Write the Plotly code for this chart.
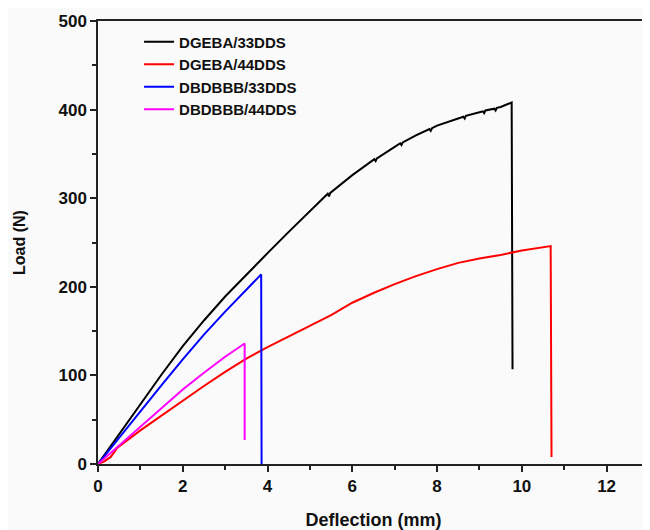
import plotly.graph_objects as go

# DGEBA/33DDS
x_dgeba33 = [0, 0.5, 1.0, 1.5, 2.0, 2.5, 3.0, 3.5, 4.0, 4.5, 5.0, 5.42, 5.45, 5.48, 6.0, 6.52, 6.55, 6.58, 7.0,
             7.13, 7.16, 7.19, 7.5, 7.82, 7.85, 7.88, 8.0, 8.5, 8.62, 8.65, 8.68, 9.0, 9.08, 9.11, 9.14, 9.35,
             9.38, 9.41, 9.5, 9.76, 9.78]
y_dgeba33 = [0, 34, 67, 101, 133, 162, 189, 214, 238, 262, 285, 305, 302, 306, 326, 344, 342, 345, 358,
             362, 360, 363, 371, 378, 376, 379, 382, 390, 392, 390, 393, 397, 398, 396, 399, 401,
             399, 402, 403, 408, 107]

# DGEBA/44DDS
x_dgeba44 = [0, 0.15, 0.3, 0.45, 1.0, 1.5, 2.0, 2.5, 3.0, 3.5, 4.0, 4.5, 5.0, 5.5, 6.0, 6.5, 7.0, 7.5, 8.0,
             8.5, 9.0, 9.5, 10.0, 10.4, 10.68, 10.7]
y_dgeba44 = [0, 3, 8, 18, 38, 55, 71, 88, 104, 119, 132, 144, 156, 168, 182, 193, 203, 212, 220,
             227, 232, 236, 241, 244, 246, 8]

# DBDBBB/33DDS
x_dbdbbb33 = [0, 0.5, 1.0, 1.5, 2.0, 2.5, 3.0, 3.5, 3.85, 3.86]
y_dbdbbb33 = [0, 30, 60, 89, 118, 146, 172, 197, 214, 0]

# DBDBBB/44DDS
x_dbdbbb44 = [0, 0.5, 1.0, 1.5, 2.0, 2.5, 3.0, 3.46, 3.46]
y_dbdbbb44 = [0, 21, 42, 63, 84, 103, 121, 136, 27]

names = ["DGEBA/33DDS", "DGEBA/44DDS", "DBDBBB/33DDS", "DBDBBB/44DDS"]
colors = ["#000000", "#ff0000", "#0000ff", "#ff00ff"]
xs = [x_dgeba33, x_dgeba44, x_dbdbbb33, x_dbdbbb44]
ys = [y_dgeba33, y_dgeba44, y_dbdbbb33, y_dbdbbb44]

x_ticks = [0, 2, 4, 6, 8, 10, 12]
x_minor = [1, 3, 5, 7, 9, 11, 13]
y_ticks = [0, 100, 200, 300, 400, 500]
y_minor = [50, 150, 250, 350, 450]

fig = go.Figure()
for n, c, x, y in zip(names, colors, xs, ys):
    fig.add_trace(go.Scatter(x=x, y=y, mode="lines", name=n,
                             line=dict(color=c, width=2, shape="linear")))

fig.update_layout(
    width=642, height=522,
    margin=dict(l=90, r=1, t=13, b=66, autoexpand=False),
    paper_bgcolor="#fafafa",
    plot_bgcolor="#fafafa",
    showlegend=True,
    legend=dict(x=0.0745, y=0.99, xanchor="left", yanchor="top",
                bgcolor="rgba(0,0,0,0)",
                font=dict(family="Arial", size=15, color="#111111", weight="bold"),
                tracegroupgap=0),
)

fig.update_xaxes(
    range=[0, 13], tickvals=x_ticks, ticktext=[str(v) for v in x_ticks],
    showgrid=False, zeroline=False, automargin=False,
    showline=True, linecolor="#222222", linewidth=1.5, mirror=True,
    ticks="outside", ticklen=6, tickwidth=1.5, tickcolor="#222222",
    minor=dict(tickvals=x_minor, ticks="outside", ticklen=4,
               tickwidth=1.5, tickcolor="#222222"),
    tickfont=dict(family="Arial", size=17, color="#111111", weight="bold"),
    title=dict(text="Deflection (mm)", font=dict(family="Arial", size=18, color="#111111", weight="bold"),
               standoff=18),
)
fig.update_yaxes(
    range=[0, 500], tickvals=y_ticks, ticktext=[str(v) for v in y_ticks],
    showgrid=False, zeroline=False, automargin=False,
    showline=True, linecolor="#222222", linewidth=1.5, mirror=True,
    ticks="outside", ticklen=6, tickwidth=1.5, tickcolor="#222222",
    minor=dict(tickvals=y_minor, ticks="outside", ticklen=4,
               tickwidth=1.5, tickcolor="#222222"),
    tickfont=dict(family="Arial", size=17, color="#111111", weight="bold"),
    title=dict(text="Load (N)", font=dict(family="Arial", size=16, color="#111111", weight="bold"),
               standoff=29),
)

fig.write_html("out.html")
